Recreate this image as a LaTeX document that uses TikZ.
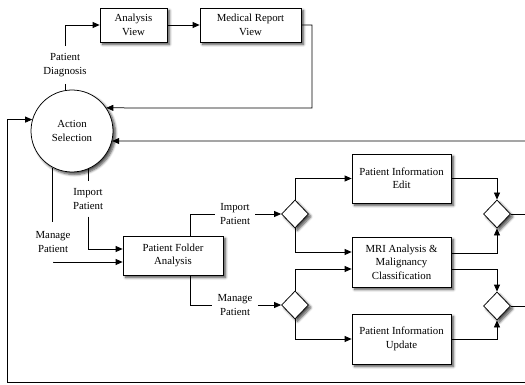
\documentclass[tikz,border=0pt]{standalone}
\usepackage{fontspec}
\setmainfont{Liberation Serif}
\usetikzlibrary{arrows.meta,shapes.geometric,shadows.blur,calc}
\begin{document}
\begin{tikzpicture}[x=1pt,y=-1pt,
  font=\fontsize{10.8}{13.5}\selectfont,
  line width=0.75pt,
  shd/.style={blur shadow={shadow xshift=2.5pt,shadow yshift=-2.5pt,shadow blur steps=6,shadow blur radius=2.5pt,shadow opacity=70}},
  box/.style={draw,fill=white,align=center,inner sep=1pt,shd},
  circ/.style={draw,circle,fill=white,align=center,minimum size=82pt,inner sep=0pt,shd},
  dia/.style={draw,diamond,fill=white,minimum width=27pt,minimum height=28pt,inner sep=0pt,shd},
  lbl/.style={align=center,inner xsep=5pt,inner ysep=7pt},
  arr/.style={-{Triangle[length=7pt,width=6pt]}}]
\useasboundingbox (0,0) rectangle (525,385);
% nodes
\node[box,minimum width=67pt,minimum height=34pt] (av) at (133.5,25) {Analysis\\View};
\node[box,minimum width=101pt,minimum height=34pt] (mr) at (250.5,25) {Medical Report\\View};
\node[circ] (as) at (72,131) {Action\\Selection};
\node[lbl] (ldiag) at (65,65) {Patient\\Diagnosis};
\node[lbl] (limp) at (88,199) {Import\\Patient};
\node[lbl,inner ysep=9pt] (lman) at (53,242) {Manage\\Patient};
\node[box,minimum width=100pt,minimum height=39pt] (pfa) at (173,255.5) {Patient Folder\\Analysis};
\node[lbl] (limp2) at (235,214) {Import\\Patient};
\node[lbl] (lman2) at (235,305) {Manage\\Patient};
\node[dia] (d1) at (295,214) {};
\node[dia] (d2) at (295,305) {};
\node[box,minimum width=99pt,minimum height=49pt] (edit) at (401.5,178.5) {Patient Information\\Edit};
\node[box,minimum width=99pt,minimum height=50pt] (mri) at (401.5,262) {MRI Analysis \&\\Malignancy\\Classification};
\node[box,minimum width=99pt,minimum height=50pt] (upd) at (401.5,339) {Patient Information\\Update};
\node[dia] (d3) at (497,214) {};
\node[dia] (d4) at (497,306) {};
\coordinate (c1) at (312,108);
\coordinate (r2) at (525,141);
\coordinate (bl) at (7,382);
\coordinate (br) at (525,382);
\coordinate (e1) at (525,214);
\coordinate (e2) at (525,306);
% connectors top
\draw (ldiag.south) -- (ldiag.south |- as.north);
\draw[arr] (ldiag.north) |- (av.west);
\draw[arr] (av) -- (mr);
\draw[arr] (mr.east) -| (c1) -- (as.34);
\draw[arr] (r2) -- (as.-14);
\draw[arr] (br) -- (bl) |- (as.164);
% circle to folder
\draw (as.-67) -- (as.-67 |- limp.north);
\draw[arr] (limp.south) |- ([yshift=6.5pt]pfa.west);
\draw (as.-118) -- (as.-118 |- lman.north);
\draw[arr] (lman.south) |- ([yshift=-6.5pt]pfa.west);
% folder to diamonds
\draw ([xshift=17pt]pfa.north) |- (limp2.west);
\draw[arr] (limp2.east) -- (d1.west);
\draw ([xshift=17pt]pfa.south) |- (lman2.west);
\draw[arr] (lman2.east) -- (d2.west);
% diamonds to boxes
\draw[arr] (d1.north) |- (edit.west);
\draw[arr] (d1.south) |- ([yshift=10pt]mri.west);
\draw[arr] (d2.north) |- ([yshift=-7pt]mri.west);
\draw[arr] (d2.south) |- (upd.west);
% boxes to right diamonds
\draw[arr] (edit.east) -| (d3.north);
\draw[arr] ([yshift=9pt]mri.east) -| (d3.south);
\draw[arr] ([yshift=-7pt]mri.east) -| (d4.north);
\draw[arr] (upd.east) -| (d4.south);
\draw (d3.east) -- (e1);
\draw (d4.east) -- (e2);
\end{tikzpicture}
\end{document}
